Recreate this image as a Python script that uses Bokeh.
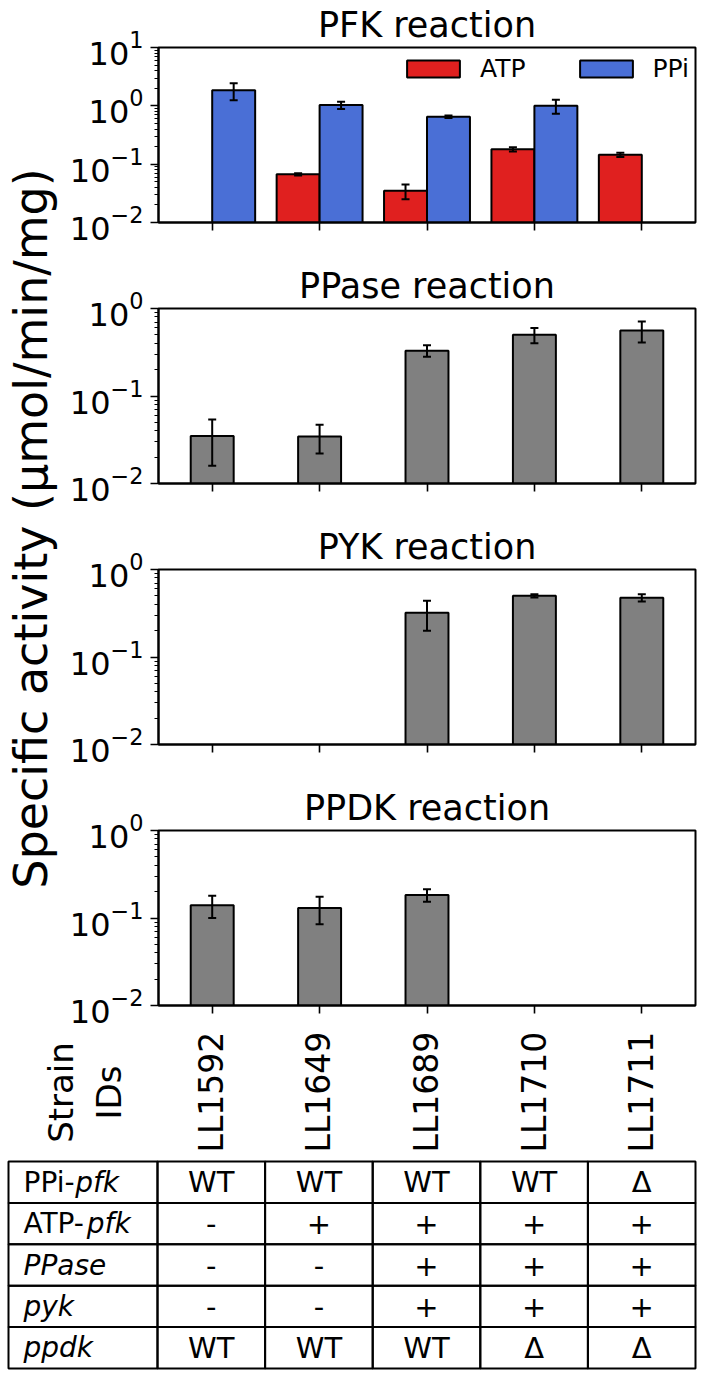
import math
from bokeh.plotting import figure
from bokeh.models import (ColumnDataSource, Range1d, FactorRange, Whisker, TeeHead,
                          Legend, LegendItem, FixedTicker, LogTickFormatter)
from bokeh.layouts import column, row
from bokeh.embed import file_html
from bokeh.resources import INLINE
from bokeh.core.properties import value
from bokeh.transform import dodge

FONT = "DejaVu Sans"

# ---------------- data ----------------
strains = ["LL1592", "LL1649", "LL1689", "LL1710", "LL1711"]

pfk_atp = [None, 0.067, 0.035, 0.18, 0.145]
pfk_atp_err = [None, 0.003, 0.010, 0.015, 0.012]
pfk_ppi = [1.85, 1.03, 0.65, 1.0, None]
pfk_ppi_err = [0.6, 0.15, 0.03, 0.27, None]

ppase = [0.035, 0.0345, 0.33, 0.50, 0.56]
ppase_err = [0.019, 0.0125, 0.05, 0.10, 0.15]

pyk = [None, None, 0.32, 0.50, 0.475]
pyk_err = [None, None, 0.12, 0.02, 0.045]

ppdk = [0.14, 0.13, 0.183, None, None]
ppdk_err = [0.04, 0.045, 0.03, None, None]

row_prefix = ["PPi-", "ATP-", "", "", ""]
row_italic = ["pfk", "pfk", "PPase", "pyk", "ppdk"]
geno_ppi_pfk = ["WT", "WT", "WT", "WT", "Δ"]
geno_atp_pfk = ["-", "+", "+", "+", "+"]
geno_ppase = ["-", "-", "+", "+", "+"]
geno_pyk = ["-", "-", "+", "+", "+"]
geno_ppdk = ["WT", "WT", "WT", "Δ", "Δ"]
genotypes = [geno_ppi_pfk, geno_atp_pfk, geno_ppase, geno_pyk, geno_ppdk]

ylabel = "Specific activity (μmol/min/mg)"

RED = "#e0201f"
BLUE = "#4a6fd6"
GRAY = "#808080"

# ---------------- layout constants ----------------
YLAB_W = 66       # width of the shared y-label strip
PW = 638          # panel figure width
BL, BR = 91, 9    # panel borders
FRAME_W = PW - BL - BR
BOTTOM = 25
FRAME_H = 175


def src_from(vals, errs):
    d = dict(strain=[], top=[], upper=[], lower=[])
    for s, v, e in zip(strains, vals, errs):
        if v is None:
            continue
        d["strain"].append(s)
        d["top"].append(v)
        d["upper"].append(v + e)
        d["lower"].append(v - e)
    return ColumnDataSource(d)


def panel(title, ymax_exp, top_border):
    p = figure(width=PW, height=top_border + FRAME_H + BOTTOM,
               x_range=FactorRange(factors=strains), y_axis_type="log",
               y_range=Range1d(10 ** -2, 10 ** ymax_exp),
               output_backend="svg", toolbar_location=None, title=title,
               min_border_left=BL, min_border_right=BR,
               min_border_top=top_border, min_border_bottom=BOTTOM)
    p.title.text_font = FONT
    p.title.text_font_size = "35px"
    p.title.text_font_style = "normal"
    p.title.text_color = "black"
    p.title.align = "center"
    p.title.standoff = 5
    p.outline_line_color = "black"
    p.outline_line_width = 2
    p.outline_line_alpha = 1
    p.xgrid.visible = False
    p.ygrid.visible = False
    majors = [10 ** k for k in range(-2, ymax_exp + 1)]
    minors = [m * 10 ** k for k in range(-2, ymax_exp) for m in range(2, 10)]
    p.yaxis.ticker = FixedTicker(ticks=majors, minor_ticks=minors)
    p.yaxis.formatter = LogTickFormatter()
    for ax in (p.xaxis[0], p.yaxis[0]):
        ax.axis_line_width = 2
        ax.axis_line_color = "black"
        ax.major_tick_line_width = 1.6
        ax.major_tick_line_color = "black"
        ax.minor_tick_line_width = 1.2
        ax.minor_tick_line_color = "black"
        ax.major_tick_in = 0
        ax.major_tick_out = 8
        ax.minor_tick_in = 0
        ax.minor_tick_out = 4
    p.yaxis.major_label_text_font = FONT
    p.yaxis.major_label_text_font_size = "32px"
    p.yaxis.major_label_text_color = "black"
    p.yaxis.major_label_standoff = 7
    p.xaxis.major_label_text_color = None
    p.xaxis.major_label_text_font_size = "1px"
    p.xaxis.major_label_standoff = 0
    return p


def add_bars(p, src, offset, width, color):
    r = p.vbar(x=dodge("strain", offset, range=p.x_range), top="top", bottom=1e-3,
               width=width, source=src, fill_color=color, line_color="black",
               line_width=2)
    w = Whisker(source=src, base=dodge("strain", offset, range=p.x_range),
                upper="upper", lower="lower", line_color="black", line_width=2,
                level="overlay")
    w.upper_head = TeeHead(size=8, line_width=2, line_color="black")
    w.lower_head = TeeHead(size=8, line_width=2, line_color="black")
    p.add_layout(w)
    return r


# Panel 1: PFK
p1 = panel("PFK reaction", 1, 47)
r_atp = add_bars(p1, src_from(pfk_atp, pfk_atp_err), -0.2, 0.4, RED)
r_ppi = add_bars(p1, src_from(pfk_ppi, pfk_ppi_err), 0.2, 0.4, BLUE)
legend = Legend(items=[LegendItem(label="ATP", renderers=[r_atp]),
                       LegendItem(label="PPi", renderers=[r_ppi])],
                location=(242, 139), orientation="horizontal",
                border_line_color=None, background_fill_alpha=0,
                label_text_font=FONT, label_text_font_size="25px",
                label_text_color="black",
                glyph_width=66, glyph_height=21, label_standoff=14,
                spacing=47, padding=4, margin=0)
p1.add_layout(legend)

p2 = panel("PPase reaction", 0, 61)
add_bars(p2, src_from(ppase, ppase_err), 0.0, 0.4, GRAY)

p3 = panel("PYK reaction", 0, 61)
add_bars(p3, src_from(pyk, pyk_err), 0.0, 0.4, GRAY)

p4 = panel("PPDK reaction", 0, 61)
add_bars(p4, src_from(ppdk, ppdk_err), 0.0, 0.4, GRAY)

panels_h = sum(pp.height for pp in (p1, p2, p3, p4))

# ---------------- shared y label ----------------
yl = figure(width=YLAB_W, height=panels_h, x_range=Range1d(0, YLAB_W),
            y_range=Range1d(0, panels_h), output_backend="svg",
            toolbar_location=None, min_border=0,
            x_axis_location=None, y_axis_location=None)
yl.outline_line_color = None
yl.grid.visible = False
yl.text(x=[30], y=[panels_h - 528], text=[ylabel], angle=math.pi / 2,
        text_align="center", text_baseline="middle",
        text_font=value(FONT), text_font_size="46px", text_color="black")

# ---------------- strain IDs + genotype table ----------------
T_W, T_H = YLAB_W + PW, 340
t = figure(width=T_W, height=T_H, x_range=Range1d(0, T_W), y_range=Range1d(0, T_H),
           output_backend="svg", toolbar_location=None, min_border=0,
           x_axis_location=None, y_axis_location=None)
t.outline_line_color = None
t.grid.visible = False

FL = YLAB_W + BL   # x of the panels' frame left edge inside this figure
UNIT = FRAME_W / len(strains)
centers = [FL + UNIT * (i + 0.5) for i in range(len(strains))]

# strain labels (rotated, reading upward)
t.text(x=centers, y=[T_H - 122] * len(strains), text=strains, angle=math.pi / 2,
       text_align="left", text_baseline="middle",
       text_font=value(FONT), text_font_size="33px", text_color="black")
t.text(x=[60, 108], y=[T_H - 62] * 2, text=["Strain", "IDs"], angle=math.pi / 2,
       text_align="center", text_baseline="middle",
       text_font=value(FONT), text_font_size="34px", text_color="black")

# table grid
TOP = 131
RH = 41.4
edges = [8] + [FL + UNIT * i for i in range(len(strains) + 1)]
cx, cy, cw = [], [], []
for r in range(len(row_italic)):
    for c in range(len(edges) - 1):
        cx.append((edges[c] + edges[c + 1]) / 2)
        cw.append(edges[c + 1] - edges[c])
        cy.append(T_H - (TOP + RH * (r + 0.5)))
t.rect(x=cx, y=cy, width=cw, height=RH, fill_color=None, line_color="black",
       line_width=2)

TFS = 29
# cell values
vx, vy, vt = [], [], []
for r, g in enumerate(genotypes):
    for c, v in enumerate(g):
        vx.append(centers[c])
        vy.append(T_H - (TOP + RH * (r + 0.5)))
        vt.append(v)
t.text(x=vx, y=vy, text=vt, text_align="center", text_baseline="middle",
       text_font=value(FONT), text_font_size=f"{TFS}px", text_color="black")

# row labels (plain prefix + italic gene name)
ADV = {"P": 0.603, "i": 0.278, "-": 0.361, "A": 0.684, "T": 0.611}
LX = 23
RFS = 28
px_, py_, pt_, ix_, iy_, it_ = [], [], [], [], [], []
for r, (pre, ital) in enumerate(zip(row_prefix, row_italic)):
    yy = T_H - (TOP + RH * (r + 0.5))
    w = sum(ADV.get(ch, 0.6) for ch in pre) * RFS
    if pre:
        px_.append(LX); py_.append(yy); pt_.append(pre)
    ix_.append(LX + w); iy_.append(yy); it_.append(ital)
t.text(x=px_, y=py_, text=pt_, text_align="left", text_baseline="middle",
       text_font=value(FONT), text_font_size=f"{RFS}px", text_color="black")
t.text(x=ix_, y=iy_, text=it_, text_align="left", text_baseline="middle",
       text_font=value(FONT), text_font_size=f"{RFS}px", text_font_style="italic",
       text_color="black")

layout = column(row(yl, column(p1, p2, p3, p4)), t)

open("out.html", "w").write(file_html(layout, INLINE))
